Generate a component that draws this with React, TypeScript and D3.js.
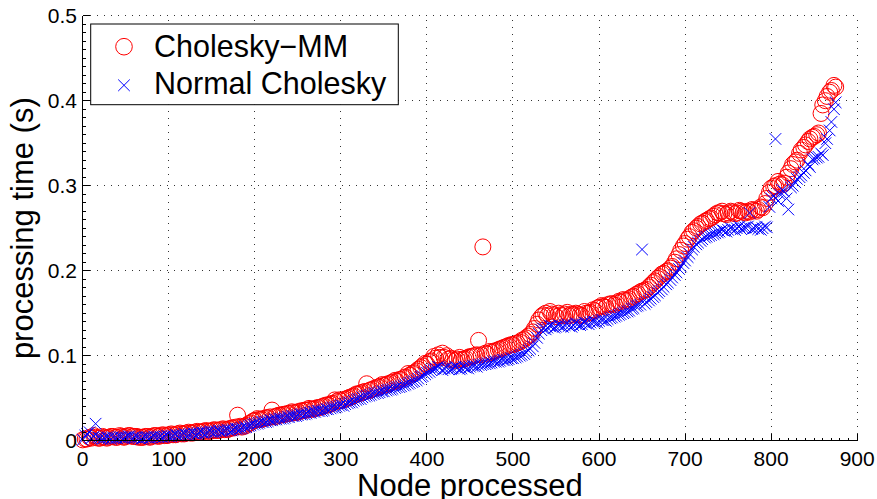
import React from "react";
import * as d3 from "d3";

// Samples are stored every 5 nodes; a second set is read at nodes offset by 3
const nodeStep = 5;
const midOffset = 3;

// Cholesky-MM processing time (s), nodes 0, 5, 10, ...
const choleskyMM = [
  0.001, 0.002, 0.003, 0.004, 0.003, 0.004, 0.004, 0.005, 0.004, 0.005,
  0.005, 0.006, 0.005, 0.004, 0.004, 0.005, 0.005, 0.006, 0.006, 0.006,
  0.007, 0.007, 0.008, 0.008, 0.009, 0.009, 0.010, 0.010, 0.011, 0.011,
  0.012, 0.012, 0.013, 0.013, 0.014, 0.015, 0.030, 0.016, 0.018, 0.021,
  0.024, 0.025, 0.026, 0.027, 0.036, 0.029, 0.030, 0.031, 0.032, 0.033,
  0.034, 0.035, 0.036, 0.037, 0.038, 0.039, 0.041, 0.042, 0.044, 0.046,
  0.047, 0.049, 0.051, 0.053, 0.055, 0.057, 0.067, 0.060, 0.062, 0.064,
  0.065, 0.067, 0.069, 0.070, 0.072, 0.075, 0.077, 0.080, 0.084, 0.088,
  0.090, 0.094, 0.097, 0.098, 0.098, 0.096, 0.095, 0.096, 0.095, 0.097,
  0.099, 0.100, 0.118, 0.228, 0.102, 0.104, 0.106, 0.108, 0.110, 0.112,
  0.113, 0.115, 0.118, 0.121, 0.125, 0.132, 0.142, 0.148, 0.147, 0.149,
  0.146, 0.148, 0.149, 0.147, 0.148, 0.149, 0.147, 0.150, 0.151, 0.153,
  0.157, 0.158, 0.160, 0.161, 0.162, 0.163, 0.165, 0.167, 0.170, 0.173,
  0.176, 0.178, 0.183, 0.188, 0.193, 0.197, 0.200, 0.205, 0.214, 0.224,
  0.232, 0.240, 0.247, 0.252, 0.256, 0.259, 0.262, 0.266, 0.268, 0.267,
  0.268, 0.269, 0.268, 0.270, 0.268, 0.269, 0.271, 0.272, 0.274, 0.285,
  0.297, 0.300, 0.302, 0.303, 0.315, 0.325, 0.330, 0.342, 0.348, 0.355,
  0.358, 0.362, 0.395, 0.405, 0.412, 0.416,
];

// Cholesky-MM processing time (s), nodes 3, 8, 13, ...
const choleskyMMMid = [
  0.002, 0.004, 0.006, 0.003, 0.005, 0.003, 0.005, 0.004, 0.006, 0.004, 0.006, 0.005,
  0.005, 0.004, 0.005, 0.004, 0.006, 0.005, 0.007, 0.006,
  0.008, 0.007, 0.009, 0.008, 0.010, 0.009, 0.011, 0.010, 0.012, 0.011,
  0.013, 0.012, 0.014, 0.013, 0.015, 0.016, 0.017, 0.017, 0.020, 0.023,
  0.026, 0.025, 0.027, 0.028, 0.028, 0.030, 0.031, 0.032, 0.034, 0.033,
  0.035, 0.036, 0.038, 0.037, 0.039, 0.040, 0.042, 0.043, 0.048, 0.048,
  0.048, 0.050, 0.052, 0.055, 0.056, 0.058, 0.059, 0.061, 0.063, 0.066,
  0.066, 0.068, 0.071, 0.072, 0.074, 0.079, 0.079, 0.082, 0.086, 0.091,
  0.093, 0.099, 0.101, 0.103, 0.100, 0.097, 0.094, 0.098, 0.096, 0.098,
  0.099, 0.101, 0.101, 0.103, 0.105, 0.105, 0.107, 0.109, 0.111, 0.113,
  0.114, 0.116, 0.119, 0.123, 0.128, 0.137, 0.146, 0.150, 0.152, 0.148,
  0.150, 0.147, 0.151, 0.149, 0.150, 0.148, 0.152, 0.150, 0.154, 0.156,
  0.159, 0.157, 0.161, 0.160, 0.164, 0.166, 0.165, 0.169, 0.172, 0.175,
  0.177, 0.181, 0.186, 0.191, 0.196, 0.199, 0.203, 0.210, 0.219, 0.229,
  0.237, 0.245, 0.250, 0.255, 0.258, 0.261, 0.264, 0.268, 0.270, 0.266,
  0.270, 0.267, 0.271, 0.269, 0.270, 0.272, 0.270, 0.275, 0.279, 0.292,
  0.299, 0.305, 0.301, 0.310, 0.320, 0.328, 0.338, 0.345, 0.352, 0.357,
  0.360, 0.385, 0.400, 0.410, 0.418,
];

// Normal Cholesky processing time (s), nodes 0, 5, 10, ...
const normalCholesky = [
  0.001, 0.008, 0.003, 0.020, 0.003, 0.003, 0.003, 0.004, 0.003, 0.004,
  0.004, 0.005, 0.004, 0.003, 0.003, 0.004, 0.004, 0.004, 0.005, 0.005,
  0.005, 0.006, 0.006, 0.007, 0.007, 0.008, 0.008, 0.009, 0.009, 0.010,
  0.010, 0.011, 0.011, 0.012, 0.012, 0.013, 0.014, 0.015, 0.016, 0.018,
  0.020, 0.021, 0.022, 0.023, 0.024, 0.025, 0.026, 0.027, 0.028, 0.029,
  0.030, 0.031, 0.032, 0.033, 0.034, 0.035, 0.036, 0.037, 0.039, 0.040,
  0.042, 0.043, 0.045, 0.047, 0.049, 0.051, 0.053, 0.054, 0.056, 0.057,
  0.058, 0.060, 0.061, 0.063, 0.064, 0.066, 0.068, 0.070, 0.073, 0.076,
  0.080, 0.083, 0.085, 0.086, 0.085, 0.084, 0.085, 0.086, 0.085, 0.086,
  0.087, 0.088, 0.089, 0.090, 0.091, 0.092, 0.093, 0.094, 0.095, 0.096,
  0.097, 0.099, 0.101, 0.104, 0.108, 0.115, 0.126, 0.132, 0.133, 0.135,
  0.134, 0.135, 0.136, 0.135, 0.136, 0.137, 0.137, 0.138, 0.139, 0.140,
  0.141, 0.142, 0.143, 0.145, 0.147, 0.149, 0.151, 0.153, 0.156, 0.159,
  0.225, 0.163, 0.167, 0.171, 0.176, 0.181, 0.186, 0.192, 0.198, 0.205,
  0.212, 0.220, 0.228, 0.233, 0.237, 0.240, 0.242, 0.244, 0.246, 0.247,
  0.248, 0.249, 0.250, 0.249, 0.251, 0.268, 0.250, 0.249, 0.250, 0.251,
  0.285, 0.355, 0.290, 0.293, 0.272, 0.300, 0.308, 0.312, 0.318, 0.322,
  0.332, 0.334, 0.336, 0.355, 0.375, 0.398,
];

// Normal Cholesky processing time (s), nodes 3, 8, 13, ...
const normalCholeskyMid = [
  0.006, 0.010, 0.005, 0.004, 0.002, 0.004, 0.002, 0.003, 0.004, 0.003, 0.005, 0.003,
  0.004, 0.002, 0.004, 0.003, 0.005, 0.004, 0.004, 0.006,
  0.005, 0.007, 0.006, 0.008, 0.007, 0.009, 0.008, 0.010, 0.009, 0.011,
  0.010, 0.012, 0.011, 0.013, 0.012, 0.014, 0.014, 0.016, 0.017, 0.019,
  0.020, 0.022, 0.022, 0.024, 0.025, 0.026, 0.026, 0.028, 0.029, 0.029,
  0.031, 0.031, 0.033, 0.034, 0.035, 0.035, 0.037, 0.038, 0.039, 0.041,
  0.041, 0.044, 0.045, 0.048, 0.049, 0.052, 0.053, 0.055, 0.056, 0.058,
  0.059, 0.060, 0.062, 0.063, 0.065, 0.067, 0.069, 0.071, 0.075, 0.078,
  0.081, 0.084, 0.087, 0.083, 0.086, 0.084, 0.087, 0.084, 0.087, 0.085,
  0.088, 0.087, 0.089, 0.090, 0.091, 0.093, 0.093, 0.095, 0.095, 0.097,
  0.098, 0.100, 0.102, 0.106, 0.111, 0.121, 0.130, 0.131, 0.135, 0.133,
  0.136, 0.134, 0.137, 0.134, 0.138, 0.136, 0.139, 0.137, 0.140, 0.139,
  0.142, 0.141, 0.144, 0.146, 0.148, 0.150, 0.152, 0.155, 0.158, 0.160,
  0.161, 0.165, 0.169, 0.174, 0.178, 0.184, 0.189, 0.195, 0.202, 0.209,
  0.216, 0.225, 0.231, 0.235, 0.239, 0.241, 0.243, 0.245, 0.248, 0.246,
  0.250, 0.248, 0.252, 0.250, 0.252, 0.249, 0.251, 0.248, 0.252, 0.275,
  0.288, 0.282, 0.295, 0.285, 0.298, 0.304, 0.310, 0.315, 0.325, 0.331,
  0.333, 0.338, 0.350, 0.365, 0.390,
];

const xTicks = [0, 100, 200, 300, 400, 500, 600, 700, 800, 900];
const yTicks = [0, 0.1, 0.2, 0.3, 0.4, 0.5];
const yTickLabels = ["0", "0.1", "0.2", "0.3", "0.4", "0.5"];
const seriesNames = ["Cholesky\u2212MM", "Normal Cholesky"];

const W = 877;
const H = 499;
const FONT = "'Liberation Sans', Arial, Helvetica, sans-serif";

export default function App() {
  const x = d3.scaleLinear().domain([0, 900]).range([82.7, 857.2]);
  const y = d3.scaleLinear().domain([0, 0.5]).range([440.7, 15.7]);
  const [x0, x1] = x.range();
  const [y0, y1] = y.range();

  const xMinor = d3.range(0, 901, 10).filter((v) => v % 100 !== 0);
  const yMinor = d3.range(0, 51, 1).map((v) => v / 100).filter((_, i) => i % 10 !== 0);

  const redPts = [
    ...choleskyMM.map((v, i) => [i * nodeStep, v]),
    ...choleskyMMMid.map((v, i) => [i * nodeStep + midOffset, v]),
  ].sort((a, b) => a[0] - b[0]);
  const bluePts = [
    ...normalCholesky.map((v, i) => [i * nodeStep, v]),
    ...normalCholeskyMid.map((v, i) => [i * nodeStep + midOffset, v]),
  ].sort((a, b) => a[0] - b[0]);

  const s = 5.8;
  const cross = `M${-s},${-s}L${s},${s}M${-s},${s}L${s},${-s}`;

  return (
    <div style={{ width: W, height: H }}>
      <style>{`body{margin:0;background:#fff}`}</style>
      <svg width={W} height={H} style={{ display: "block", fontFamily: FONT }}>
        <rect x={0} y={0} width={W} height={H} fill="#fff" />
        {/* grid */}
        <g stroke="#333" strokeWidth={1} strokeDasharray="1,6" shapeRendering="crispEdges">
          {xTicks.filter((t) => t !== 0).map((t) => (
            <line key={"gx" + t} x1={x(t)} x2={x(t)} y1={y0} y2={y1} />
          ))}
          {yTicks.filter((t) => t !== 0).map((t) => (
            <line key={"gy" + t} x1={x0} x2={x1} y1={y(t)} y2={y(t)} />
          ))}
        </g>
        {/* data */}
        <g fill="none" stroke="#ff0000" strokeWidth={1}>
          {redPts.map((p, i) => (
            <circle key={"r" + i} cx={x(p[0])} cy={y(p[1])} r={8} />
          ))}
        </g>
        <g fill="none" stroke="#0000ff" strokeWidth={1}>
          {bluePts.map((p, i) => (
            <path key={"b" + i} d={cross} transform={`translate(${x(p[0])},${y(p[1])})`} />
          ))}
        </g>
        {/* axes */}
        <g stroke="#000" strokeWidth={1} shapeRendering="crispEdges">
          <line x1={x0} x2={x0} y1={y0} y2={y1} />
          <line x1={x0} x2={x1} y1={y0} y2={y0} />
          {xTicks.map((t) => (
            <line key={"tx" + t} x1={x(t)} x2={x(t)} y1={y0} y2={y0 - 7} />
          ))}
          {xMinor.map((t) => (
            <line key={"mx" + t} x1={x(t)} x2={x(t)} y1={y0} y2={y0 - 3} />
          ))}
          {yTicks.map((t) => (
            <line key={"ty" + t} x1={x0} x2={x0 + 7} y1={y(t)} y2={y(t)} />
          ))}
          {yMinor.map((t) => (
            <line key={"my" + t} x1={x0} x2={x0 + 3} y1={y(t)} y2={y(t)} />
          ))}
        </g>
        <g fontSize={21} fill="#000">
          {xTicks.map((t) => (
            <text key={"lx" + t} x={x(t)} y={466} textAnchor="middle">{t}</text>
          ))}
          {yTicks.map((t, i) => (
            <text key={"ly" + t} x={77} y={y(t) + 7.5} textAnchor="end">{yTickLabels[i]}</text>
          ))}
        </g>
        <text x={(x0 + x1) / 2} y={496} fontSize={31} textAnchor="middle">Node processed</text>
        <text
          transform={`translate(33,${(y0 + y1) / 2}) rotate(-90)`}
          fontSize={31}
          textAnchor="middle"
        >
          processing time (s)
        </text>
        {/* legend */}
        <rect x={90.7} y={24} width={307.6} height={80.7} fill="#fff" stroke="#000" strokeWidth={1} />
        <circle cx={124} cy={46.7} r={8.3} fill="none" stroke="#ff0000" strokeWidth={1} />
        <path d={cross} transform="translate(124,85.3)" fill="none" stroke="#0000ff" strokeWidth={1} />
        <text x={154} y={57} fontSize={30.5}>{seriesNames[0]}</text>
        <text x={154} y={94} fontSize={30.5}>{seriesNames[1]}</text>
      </svg>
    </div>
  );
}
